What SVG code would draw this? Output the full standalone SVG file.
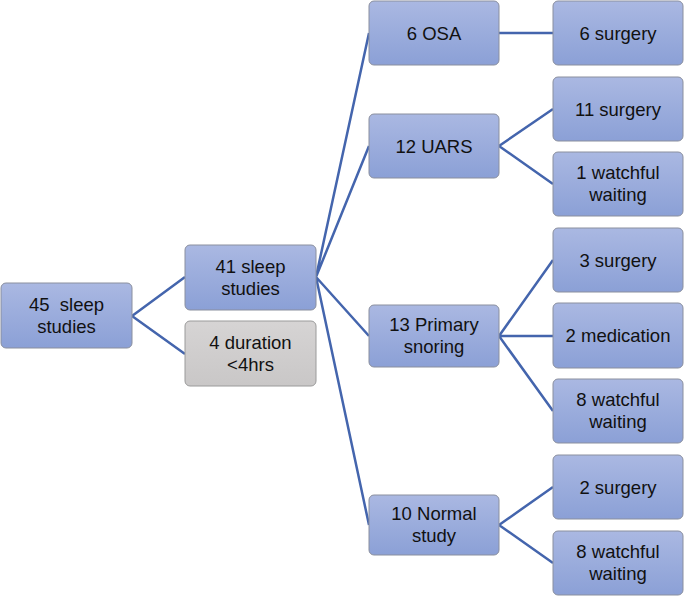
<svg xmlns="http://www.w3.org/2000/svg" width="685" height="596" viewBox="0 0 685 596">
<defs>
<linearGradient id="gb" x1="0" y1="0" x2="0" y2="1">
<stop offset="0" stop-color="#aab8e2"/>
<stop offset="1" stop-color="#8ba0d6"/>
</linearGradient>
<linearGradient id="gg" x1="0" y1="0" x2="0" y2="1">
<stop offset="0" stop-color="#d6d4d4"/>
<stop offset="1" stop-color="#c9c7c7"/>
</linearGradient>
</defs>
<style>
.n rect{fill:url(#gb);stroke:#8a8f9e;stroke-width:1}
.g rect{fill:url(#gg);stroke:#9a9a9a;stroke-width:1}
text{font-family:"Liberation Sans",Arial,sans-serif;font-size:18.5px;fill:#111;text-anchor:middle;white-space:pre}
#connectors path{fill:none;stroke:#4465ad;stroke-width:2.5}
</style>
<rect width="685" height="596" fill="#fff"/>
<g id="connectors">
<path d="M132,316 L185,277 M132,316 L185,354"/>
<path d="M316,277 L369,33 M316,277 L369,146 M316,277 L369,336 M316,277 L369,525"/>
<path d="M499,33 L553,33"/>
<path d="M499,146 L553,109 M499,146 L553,184"/>
<path d="M499,336 L553,260 M499,336 L553,336 M499,336 L553,411"/>
<path d="M499,525 L553,487 M499,525 L553,563"/>
</g>
<g id="n45" class="n"><rect x="1" y="283" width="131" height="65" rx="5"/><text x="66.5" y="311" xml:space="preserve">45  sleep</text><text x="66.5" y="333">studies</text></g>
<g id="n41" class="n"><rect x="185" y="245" width="131" height="65" rx="5"/><text x="250.5" y="273">41 sleep</text><text x="250.5" y="295">studies</text></g>
<g id="n4" class="g"><rect x="185" y="321" width="131" height="65" rx="5"/><text x="250.5" y="349">4 duration</text><text x="250.5" y="371">&lt;4hrs</text></g>
<g id="osa" class="n"><rect x="369" y="1" width="130" height="64" rx="5"/><text x="434" y="39.5">6 OSA</text></g>
<g id="osa_s" class="n"><rect x="553" y="1" width="130" height="64" rx="5"/><text x="618" y="39.5">6 surgery</text></g>
<g id="uars" class="n"><rect x="369" y="114" width="130" height="64" rx="5"/><text x="434" y="152.5">12 UARS</text></g>
<g id="uars_s" class="n"><rect x="553" y="77" width="130" height="64" rx="5"/><text x="618" y="115.5">11 surgery</text></g>
<g id="uars_w" class="n"><rect x="553" y="152" width="130" height="64" rx="5"/><text x="618" y="179">1 watchful</text><text x="618" y="201">waiting</text></g>
<g id="ps" class="n"><rect x="369" y="305" width="130" height="62" rx="5"/><text x="434" y="331">13 Primary</text><text x="434" y="353">snoring</text></g>
<g id="ps_s" class="n"><rect x="553" y="228" width="130" height="64" rx="5"/><text x="618" y="266.5">3 surgery</text></g>
<g id="ps_m" class="n"><rect x="553" y="303" width="130" height="65" rx="5"/><text x="618" y="342">2 medication</text></g>
<g id="ps_w" class="n"><rect x="553" y="379" width="130" height="64" rx="5"/><text x="618" y="406">8 watchful</text><text x="618" y="428">waiting</text></g>
<g id="ns" class="n"><rect x="369" y="495" width="130" height="60" rx="5"/><text x="434" y="520">10 Normal</text><text x="434" y="542">study</text></g>
<g id="ns_s" class="n"><rect x="553" y="455" width="130" height="64" rx="5"/><text x="618" y="493.5">2 surgery</text></g>
<g id="ns_w" class="n"><rect x="553" y="531" width="130" height="64" rx="5"/><text x="618" y="558">8 watchful</text><text x="618" y="580">waiting</text></g>
</svg>
